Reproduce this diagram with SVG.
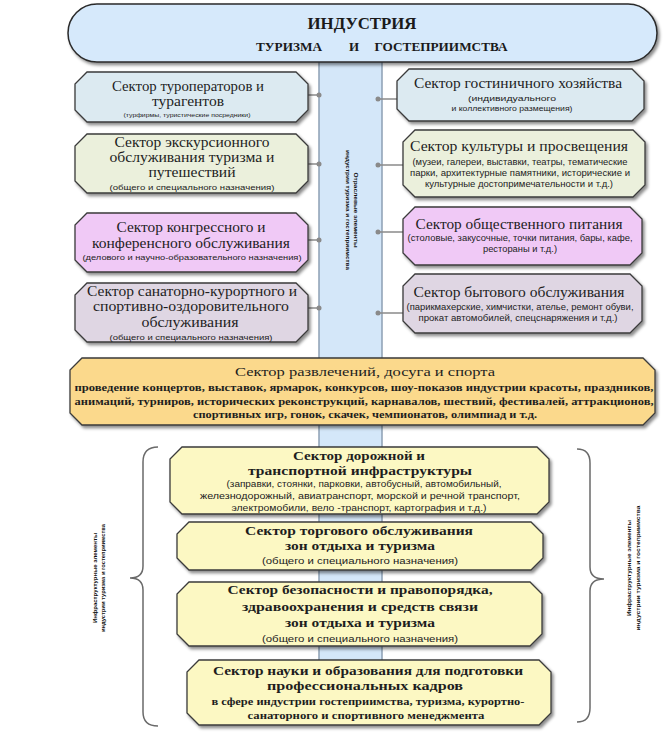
<svg xmlns="http://www.w3.org/2000/svg" width="671" height="735" viewBox="0 0 671 735">
<defs>
<filter id="sh" x="-10%" y="-10%" width="125%" height="135%">
<feDropShadow dx="2" dy="2.5" stdDeviation="1.5" flood-color="#000" flood-opacity="0.45"/>
</filter>
<style>
.box{stroke:#3a3a3a;stroke-width:1.3;filter:url(#sh)}
.blue{fill:#dceaf1}.green{fill:#ebf0dc}.pink{fill:#f0c9f6}.grey{fill:#dfd6e3}
.orange{fill:#fbd98c}.yellow{fill:#fcf8c3}
.t{font-family:"Liberation Serif",serif;font-size:14px;fill:#1e1e1e;text-anchor:middle}
.tb{font-family:"Liberation Serif",serif;font-size:13px;font-weight:bold;fill:#1e1e1e;text-anchor:middle}
.s{font-family:"Liberation Sans",sans-serif;font-size:8px;fill:#222;text-anchor:middle}
.v{font-family:"Liberation Sans",sans-serif;font-size:5px;font-weight:bold;fill:#111;text-anchor:middle}
.h{font-family:"Liberation Serif",serif;font-weight:bold;fill:#1a1a1a;text-anchor:middle}
.conn{stroke:#8a8a8a;stroke-width:1.5;fill:none}
.dot{fill:#8a8a8a}
.br{stroke:#6a6a6a;stroke-width:1.5;fill:none}
</style>
</defs>
<rect width="671" height="735" fill="#fff"/>

<g id="bar">
<rect x="319" y="58" width="63" height="638" fill="#d4e7f9"/>
<line x1="319" y1="58" x2="319" y2="696" stroke="#8d9fb3" stroke-width="1.5"/>
<line x1="382" y1="58" x2="382" y2="696" stroke="#8d9fb3" stroke-width="1.5"/>
<text class="v" transform="translate(351 210) rotate(90)"><tspan x="0" y="-2.5" textLength="75" lengthAdjust="spacingAndGlyphs">Отраслевые   элементы</tspan><tspan x="0" y="5.5" textLength="120" lengthAdjust="spacingAndGlyphs">индустрии туризма и гостеприимства</tspan></text>
</g>

<g id="header">
<rect x="68" y="4" width="589" height="58" rx="29" ry="29" fill="#d6e9fb" stroke="#2a2a2a" stroke-width="1.5" filter="url(#sh)"/>
<text class="h" x="362" y="29" style="font-size:17px" textLength="109" lengthAdjust="spacingAndGlyphs">ИНДУСТРИЯ</text>
<text class="h" x="289" y="51" style="font-size:13px" textLength="66" lengthAdjust="spacingAndGlyphs">ТУРИЗМА</text>
<text class="h" x="354" y="51" style="font-size:13px">И</text>
<text class="h" x="441" y="51" style="font-size:13px" textLength="133" lengthAdjust="spacingAndGlyphs">ГОСТЕПРИИМСТВА</text>
</g>

<g id="connectors">
<line class="conn" x1="308" y1="95" x2="319" y2="95"/><circle class="dot" cx="319" cy="95" r="2.5"/>
<line class="conn" x1="308" y1="164" x2="319" y2="164"/><circle class="dot" cx="319" cy="164" r="2.5"/>
<line class="conn" x1="308" y1="240" x2="319" y2="240"/><circle class="dot" cx="319" cy="240" r="2.5"/>
<line class="conn" x1="308" y1="308" x2="319" y2="308"/><circle class="dot" cx="319" cy="308" r="2.5"/>
<line class="conn" x1="378" y1="99" x2="397" y2="99"/><circle class="dot" cx="378" cy="99" r="2.5"/>
<line class="conn" x1="378" y1="165" x2="403" y2="165"/><circle class="dot" cx="378" cy="165" r="2.5"/>
<line class="conn" x1="378" y1="232" x2="403" y2="232"/><circle class="dot" cx="378" cy="232" r="2.5"/>
<line class="conn" x1="378" y1="313" x2="403" y2="313"/><circle class="dot" cx="378" cy="313" r="2.5"/>
</g>

<g id="tour-operators">
<polygon class="box blue" points="87,72 296,72 308,84 308,110 296,122 87,122 75,110 75,84"/>
<text class="t" x="188" y="91" textLength="152" lengthAdjust="spacingAndGlyphs">Сектор туроператоров и</text>
<text class="t" x="188" y="106" textLength="72" lengthAdjust="spacingAndGlyphs">турагентов</text>
<text class="s" x="187" y="116.5" style="font-size:5.5px" textLength="127" lengthAdjust="spacingAndGlyphs">(турфирмы, туристические посредники)</text>
</g>

<g id="excursion">
<polygon class="box green" points="87,134 296,134 308,146 308,181 296,193 87,193 75,181 75,146"/>
<text class="t" x="192" y="147" textLength="155" lengthAdjust="spacingAndGlyphs">Сектор экскурсионного</text>
<text class="t" x="192" y="162" textLength="165" lengthAdjust="spacingAndGlyphs">обслуживания туризма и</text>
<text class="t" x="192" y="177" textLength="87" lengthAdjust="spacingAndGlyphs">путешествий</text>
<text class="s" x="192" y="190" textLength="165" lengthAdjust="spacingAndGlyphs">(общего и специального назначения)</text>
</g>

<g id="congress">
<polygon class="box pink" points="87,213 296,213 308,225 308,260 296,272 87,272 75,260 75,225"/>
<text class="t" x="191" y="232" textLength="149" lengthAdjust="spacingAndGlyphs">Сектор конгрессного и</text>
<text class="t" x="191" y="248" textLength="198" lengthAdjust="spacingAndGlyphs">конференсного обслуживания</text>
<text class="s" x="192" y="260" textLength="219" lengthAdjust="spacingAndGlyphs">(делового и научно-образовательного назначения)</text>
</g>

<g id="sanatorium">
<polygon class="box grey" points="87,283 296,283 308,295 308,330 296,342 87,342 75,330 75,295"/>
<text class="t" x="192" y="296" textLength="210" lengthAdjust="spacingAndGlyphs">Сектор санаторно-курортного и</text>
<text class="t" x="191" y="311" textLength="196" lengthAdjust="spacingAndGlyphs">спортивно-оздоровительного</text>
<text class="t" x="190" y="327" textLength="97" lengthAdjust="spacingAndGlyphs">обслуживания</text>
<text class="s" x="191" y="340" textLength="163" lengthAdjust="spacingAndGlyphs">(общего и специального назначения)</text>
</g>

<g id="hotel">
<polygon class="box blue" points="409,69 632,69 644,81 644,109 632,121 409,121 397,109 397,81"/>
<text class="t" x="518" y="88" textLength="208" lengthAdjust="spacingAndGlyphs">Сектор гостиничного хозяйства</text>
<text class="s" x="512" y="100.5" style="font-size:7px" textLength="88" lengthAdjust="spacingAndGlyphs">(индивидуального</text>
<text class="s" x="512" y="111" style="font-size:7px" textLength="121" lengthAdjust="spacingAndGlyphs">и коллективного размещения)</text>
</g>

<g id="culture">
<polygon class="box green" points="415,130 633,130 645,142 645,185 633,197 415,197 403,185 403,142"/>
<text class="t" x="519" y="151" textLength="218" lengthAdjust="spacingAndGlyphs">Сектор  культуры и просвещения</text>
<text class="s" x="520" y="165" style="font-size:8.5px" textLength="215" lengthAdjust="spacingAndGlyphs">(музеи, галереи, выставки, театры, тематические</text>
<text class="s" x="520" y="176" style="font-size:8.5px" textLength="220" lengthAdjust="spacingAndGlyphs">парки,  архитектурные памятники, исторические и</text>
<text class="s" x="519" y="186.5" style="font-size:8.5px" textLength="188" lengthAdjust="spacingAndGlyphs">культурные достопримечательности и т.д.)</text>
</g>

<g id="catering">
<polygon class="box pink" points="415,207 630,207 642,219 642,253 630,265 415,265 403,253 403,219"/>
<text class="t" x="519" y="229" textLength="207" lengthAdjust="spacingAndGlyphs">Сектор  общественного питания</text>
<text class="s" x="520" y="241" style="font-size:8.5px" textLength="225" lengthAdjust="spacingAndGlyphs">(столовые, закусочные, точки питания,  бары, кафе,</text>
<text class="s" x="520" y="252" style="font-size:8.5px" textLength="74" lengthAdjust="spacingAndGlyphs">рестораны и т.д.)</text>
</g>

<g id="household">
<polygon class="box grey" points="415,274 630,274 642,286 642,321 630,333 415,333 403,321 403,286"/>
<text class="t" x="519" y="297" textLength="211" lengthAdjust="spacingAndGlyphs">Сектор бытового обслуживания</text>
<text class="s" x="520" y="310" style="font-size:8.5px" textLength="227" lengthAdjust="spacingAndGlyphs">(парикмахерские, химчистки, ателье, ремонт обуви,</text>
<text class="s" x="518" y="320.5" style="font-size:8.5px" textLength="199" lengthAdjust="spacingAndGlyphs">прокат автомобилей,  спецснаряжения и т.д.)</text>
</g>

<g id="entertainment">
<polygon class="box orange" points="82,358 643,358 655,370 655,413 643,425 82,425 70,413 70,370"/>
<text class="t" x="365" y="376" style="font-size:13px" textLength="260" lengthAdjust="spacingAndGlyphs">Сектор развлечений, досуга и спорта</text>
<text class="t" x="364" y="391" style="font-size:11px;font-weight:bold" textLength="579" lengthAdjust="spacingAndGlyphs">проведение  концертов, выставок, ярмарок, конкурсов, шоу-показов индустрии красоты,  праздников,</text>
<text class="t" x="364" y="405" style="font-size:11px;font-weight:bold" textLength="579" lengthAdjust="spacingAndGlyphs">анимаций, турниров, исторических реконструкций,  карнавалов, шествий, фестивалей,  аттракционов,</text>
<text class="t" x="365" y="418" style="font-size:11px;font-weight:bold" textLength="344" lengthAdjust="spacingAndGlyphs">спортивных игр, гонок, скачек, чемпионатов, олимпиад и т.д.</text>
</g>

<g id="transport">
<polygon class="box yellow" points="182,447 537,447 549,459 549,502 537,514 182,514 170,502 170,459"/>
<text class="tb" x="359" y="460" textLength="132" lengthAdjust="spacingAndGlyphs">Сектор дорожной и</text>
<text class="tb" x="360" y="475" textLength="224" lengthAdjust="spacingAndGlyphs">транспортной  инфраструктуры</text>
<text class="s" x="364" y="486.5" style="font-size:8.5px" textLength="275" lengthAdjust="spacingAndGlyphs">(заправки, стоянки, парковки, автобусный, автомобильный,</text>
<text class="s" x="360" y="499" style="font-size:8.5px" textLength="320" lengthAdjust="spacingAndGlyphs">железнодорожный, авиатранспорт,  морской и речной транспорт,</text>
<text class="s" x="359" y="511" style="font-size:8.5px" textLength="255" lengthAdjust="spacingAndGlyphs">электромобили, вело -транспорт, картография и т.д.)</text>
</g>

<g id="trade">
<polygon class="box yellow" points="189,522 531,522 543,534 543,558 531,570 189,570 177,558 177,534"/>
<text class="tb" x="359" y="535" textLength="228" lengthAdjust="spacingAndGlyphs">Сектор торгового  обслуживания</text>
<text class="tb" x="360" y="550" textLength="150" lengthAdjust="spacingAndGlyphs">зон отдыха и туризма</text>
<text class="s" x="360" y="563.5" style="font-size:9.5px" textLength="196" lengthAdjust="spacingAndGlyphs">(общего и специального назначения)</text>
</g>

<g id="safety">
<polygon class="box yellow" points="189,582 530,582 542,594 542,634 530,646 189,646 177,634 177,594"/>
<text class="tb" x="360" y="594" textLength="265" lengthAdjust="spacingAndGlyphs">Сектор безопасности и правопорядка,</text>
<text class="tb" x="360" y="611" textLength="236" lengthAdjust="spacingAndGlyphs">здравоохранения и  средств связи</text>
<text class="tb" x="360" y="627" textLength="150" lengthAdjust="spacingAndGlyphs">зон отдыха и туризма</text>
<text class="s" x="360" y="641.5" style="font-size:9.5px" textLength="196" lengthAdjust="spacingAndGlyphs">(общего и специального назначения)</text>
</g>

<g id="science">
<polygon class="box yellow" points="199,660 539,660 551,672 551,713 539,725 199,725 187,713 187,672"/>
<text class="tb" x="368" y="675" textLength="310" lengthAdjust="spacingAndGlyphs">Сектор науки и образования для подготовки</text>
<text class="tb" x="365" y="690" textLength="196" lengthAdjust="spacingAndGlyphs">профессиональных кадров</text>
<text class="t" x="368" y="704.5" style="font-size:10.5px;font-weight:bold" textLength="313" lengthAdjust="spacingAndGlyphs">в сфере индустрии гостеприимства, туризма, курортно-</text>
<text class="t" x="366" y="718.5" style="font-size:10.5px;font-weight:bold" textLength="237" lengthAdjust="spacingAndGlyphs">санаторного и спортивного менеджмента</text>
</g>

<g id="left-brace">
<path class="br" d="M158,447 Q143,447 143,462 L143,566 Q143,578 130,578 Q143,578 143,590 L143,712 Q143,726 158,726"/>
<text class="v" transform="translate(99 578) rotate(-90)"><tspan x="0" y="-2" textLength="90" lengthAdjust="spacingAndGlyphs">Инфраструктурные элементы</tspan><tspan x="0" y="5.5" textLength="108" lengthAdjust="spacingAndGlyphs">индустрии туризма и гостеприимства</tspan></text>
</g>

<g id="right-brace">
<path class="br" d="M577,449 Q590,449 590,463 L590,567 Q590,579 604,579 Q590,579 590,591 L590,708 Q590,722 577,722"/>
<text class="v" transform="translate(634 568) rotate(-90)"><tspan x="0" y="-3" textLength="96" lengthAdjust="spacingAndGlyphs">Инфраструктурные элементы</tspan><tspan x="0" y="6" textLength="125" lengthAdjust="spacingAndGlyphs">индустрии туризма и гостеприимства</tspan></text>
</g>
</svg>
